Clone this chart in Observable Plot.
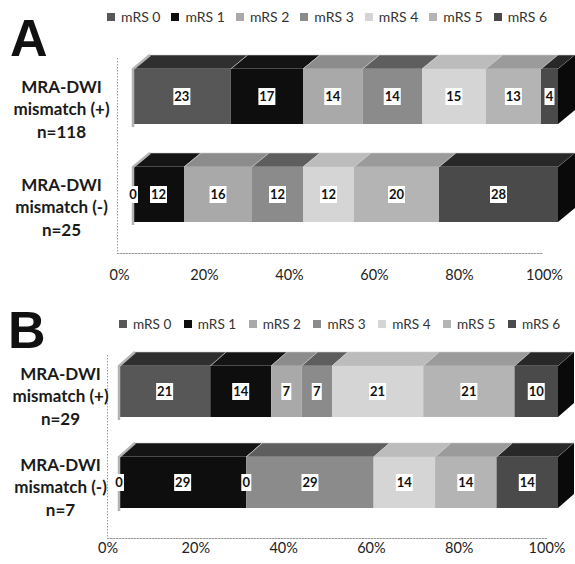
<!DOCTYPE html>
<html>
<head>
<meta charset="utf-8">
<script src="https://cdn.jsdelivr.net/npm/d3@7"></script>
<script src="https://cdn.jsdelivr.net/npm/@observablehq/plot@0.6"></script>
<style>
  html, body { margin: 0; padding: 0; background: #fff; }
  #fig { position: relative; width: 575px; height: 564px; overflow: hidden; font-family: Lato, sans-serif; }
  .letter { position: absolute; font-family: "Liberation Sans", Arial, sans-serif; font-weight: bold; font-size: 52px; line-height: 52px; color: #111; z-index: 3; }
  .leg { position: absolute; z-index: 3; width: 470px; white-space: nowrap; }
  .leg > div { flex-wrap: nowrap !important; font-family: Lato, sans-serif !important; color: #333 !important; margin: 0 !important; }
  .leg > div > span > svg { margin-right: 6px !important; }
  #legA > div > span { margin-right: 11px !important; }
  #legB > div > span { margin-right: 12.5px !important; }
  #legA > div { font-size: 14px !important; }
  #legB > div { font-size: 13.6px !important; }
  .plot { position: absolute; left: 0; z-index: 1; }
</style>
</head>
<body>
<div id="fig">
  <div id="plotA" class="plot" style="top:0px"></div>
  <div id="plotB" class="plot" style="top:290px"></div>
  <div class="letter" style="left:10px;top:12px">A</div>
  <div class="letter" style="left:8px;top:304px">B</div>
  <div id="legA" class="leg" style="left:107px;top:0px"></div>
  <div id="legB" class="leg" style="left:119px;top:307px"></div>
</div>
<script>
// ---- data ----
const categories = ["mRS 0", "mRS 1", "mRS 2", "mRS 3", "mRS 4", "mRS 5", "mRS 6"];
const frontColors = ["#575757", "#0e0e0e", "#a9a9a9", "#8b8b8b", "#d5d5d5", "#b4b4b4", "#4a4a4a"];
const topColors = ["#2f2f2f", "#141414", "#8c8c8c", "#5e5e5e", "#bcbcbc", "#9b9b9b", "#282828"];
const sideColor = "#0a0a0a";

const groupsA = ["MRA-DWI\nmismatch (+)\nn=118", "MRA-DWI\nmismatch (-)\nn=25"];
const mismatchPosA = [23, 17, 14, 14, 15, 13, 4];
const mismatchNegA = [0, 12, 16, 12, 12, 20, 28];

const groupsB = ["MRA-DWI\nmismatch (+)\nn=29", "MRA-DWI\nmismatch (-)\nn=7"];
const mismatchPosB = [21, 14, 7, 7, 21, 21, 10];
const mismatchNegB = [0, 29, 0, 29, 14, 14, 14];

const tickValues = [0, 0.2, 0.4, 0.6, 0.8, 1];

function buildRows(groups, seriesList) {
  const rows = [];
  groups.forEach((g, gi) => {
    categories.forEach((c, ci) => {
      rows.push({group: g, cat: c, value: seriesList[gi][ci], front: frontColors[ci], top: topColors[ci]});
    });
  });
  return rows;
}

// pseudo-3D boxes derived from the bars Plot renders
function box3d(rows, D, E) {
  return function (index, scales, values, dims, context, next) {
    const g = next(index, scales, values, dims, context);
    const items = Array.from(g.querySelectorAll("rect")).map(r => ({
      i: r.__data__,
      x: +r.getAttribute("x"), y: +r.getAttribute("y"),
      w: +r.getAttribute("width"), h: +r.getAttribute("height")
    }));
    const byY = d3.group(items, d => d.y);
    const lasts = [], firsts = [];
    for (const [, arr] of byY) {
      lasts.push(d3.greatest(arr, d => d.x + d.w));
      firsts.push(d3.least(arr, d => d.x));
    }
    const out = d3.create("svg:g");
    out.append("g").selectAll("path").data(items).join("path")
      .attr("d", d => `M${d.x},${d.y}L${d.x + d.w},${d.y}L${d.x + d.w + D},${d.y - E}L${d.x + D},${d.y - E}Z`)
      .attr("fill", d => rows[d.i].top)
      .attr("stroke", "#cfcfcf").attr("stroke-width", 0.6);
    out.append("g").selectAll("path").data(lasts).join("path")
      .attr("d", d => `M${d.x + d.w},${d.y}L${d.x + d.w + D},${d.y - E}L${d.x + d.w + D},${d.y + d.h - E}L${d.x + d.w},${d.y + d.h}Z`)
      .attr("fill", sideColor);
    out.append("g").selectAll("rect").data(items).join("rect")
      .attr("x", d => d.x).attr("y", d => d.y).attr("width", d => d.w).attr("height", d => d.h)
      .attr("fill", d => rows[d.i].front);
    out.append("g").selectAll("path").data(firsts).join("path")
      .attr("d", d => `M${d.x},${d.y + d.h + 3}L${d.x},${d.y}L${d.x + D},${d.y - E}`)
      .attr("fill", "none").attr("stroke", "#b3b3b3").attr("stroke-width", 2.5);
    const lab = out.append("g").selectAll("g").data(items).join("g")
      .attr("transform", d => `translate(${d.x + d.w / 2},${d.y + d.h / 2})`);
    lab.append("rect")
      .attr("x", d => -(String(rows[d.i].value).length * 7 + 3) / 2)
      .attr("width", d => String(rows[d.i].value).length * 7 + 3)
      .attr("y", -8.5).attr("height", 17).attr("fill", "#fff");
    lab.append("text")
      .attr("text-anchor", "middle").attr("dy", "0.36em")
      .attr("font-family", "Lato, sans-serif").attr("font-weight", "bold").attr("font-size", 13)
      .attr("fill", "#111")
      .text(d => rows[d.i].value);
    return out.node();
  };
}

function makePanel(cfg) {
  const rows = buildRows(cfg.groups, cfg.series);
  return Plot.plot({
    width: 575,
    height: cfg.height,
    marginTop: cfg.marginTop,
    marginBottom: cfg.marginBottom,
    marginLeft: cfg.marginLeft,
    marginRight: cfg.marginRight,
    style: {fontFamily: "Lato, sans-serif", fontSize: "14px", color: "#222", background: "transparent"},
    x: {domain: [0, 1], label: null},
    y: {domain: cfg.groups, paddingInner: cfg.padding, paddingOuter: 0, axis: null},
    color: {type: "identity"},
    marks: [
      Plot.ruleX([0], {dx: cfg.wallDx, insetTop: -11, insetBottom: -cfg.floorDy, stroke: "#9a9a9a", strokeDasharray: "1.5,1.5"}),
      Plot.frame({anchor: "bottom", dx: cfg.wallDx, dy: cfg.floorDy, stroke: "#9a9a9a", strokeDasharray: "1.5,1.5"}),
      Plot.barX(rows, Plot.stackX({x: "value", y: "group", z: "cat", fill: "front", offset: "normalize",
        render: box3d(rows, cfg.depthX, cfg.depthY)})),
      Plot.axisX({ticks: tickValues, tickFormat: d3.format(".0%"), tickSize: 0, tickPadding: cfg.tickPadding,
        dx: cfg.axisDx, fill: "#222", fontSize: 14.5, label: null}),
      Plot.text(cfg.groups, {y: d => d, text: d => d, frameAnchor: "left", dx: cfg.labelDx, dy: cfg.labelDy,
        textAnchor: "middle", lineHeight: 1.33, fontWeight: "bold", fontSize: 17, fill: "#1a1a1a"})
    ]
  });
}

function makeLegend() {
  return Plot.legend({
    color: {type: "ordinal", domain: categories, range: frontColors},
    swatchSize: 8
  });
}

document.getElementById("plotA").appendChild(makePanel({
  groups: groupsA, series: [mismatchPosA, mismatchNegA],
  height: 290, marginTop: 69, marginBottom: 68, marginLeft: 133, marginRight: 17, padding: 0.439,
  depthX: 17, depthY: 14, wallDx: -16, floorDy: 31, axisDx: -14, tickPadding: 47, labelDx: -72, labelDy: 11
}));
document.getElementById("plotB").appendChild(makePanel({
  groups: groupsB, series: [mismatchPosB, mismatchNegB],
  height: 274, marginTop: 76, marginBottom: 56, marginLeft: 119, marginRight: 17, padding: 0.44,
  depthX: 16, depthY: 14, wallDx: -12, floorDy: 30, axisDx: -11.5, tickPadding: 34, labelDx: -59, labelDy: 3
}));
document.getElementById("legA").appendChild(makeLegend());
document.getElementById("legB").appendChild(makeLegend());
</script>
</body>
</html>
